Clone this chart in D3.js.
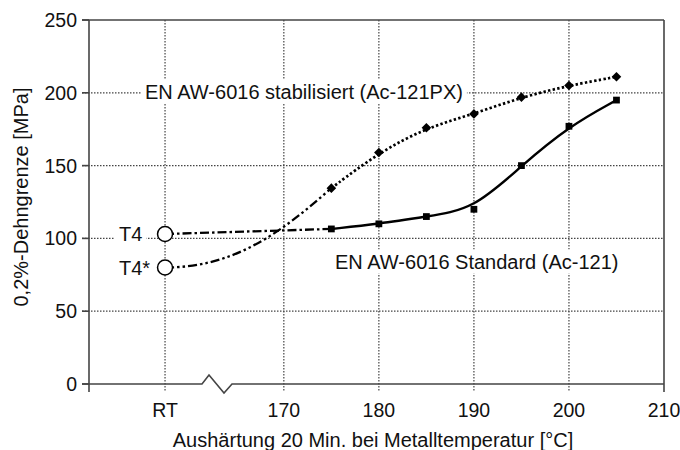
<!DOCTYPE html>
<html>
<head>
<meta charset="utf-8">
<script src="https://cdn.jsdelivr.net/npm/d3@7"></script>
<style>
  html, body { margin: 0; padding: 0; background: #fff; }
  svg { display: block; font-family: "Liberation Sans", Arial, sans-serif; }
</style>
</head>
<body>
<div id="chart"></div>
<script>
const temps = [175, 180, 185, 190, 195, 200, 205];
const standard = [106.5, 110, 115, 120, 150, 177, 195];
const stabilisiert = [134.5, 159, 176, 185.5, 197, 205, 211];
const rtT4 = 103;
const rtT4star = 80;

// Achsen
const xTickLabels = ['RT', '170', '180', '190', '200', '210'];
const xTickPos = [157.5, 170, 180, 190, 200, 210]; // RT sits left of the axis break
const yTicks = [0, 50, 100, 150, 200, 250];

const width = 680;
const height = 450;

const svg = d3.select('#chart')
  .append('svg')
  .attr('width', width)
  .attr('height', height);

const x = d3.scaleLinear().domain([149.5, 210]).range([89, 664]);
const y = d3.scaleLinear().domain([0, 250]).range([384, 20]);

const gridColor = '#444';
const axisColor = '#444';
const textColor = '#111';

// Grid (dotted)
const grid = svg.append('g').attr('class', 'grid');

grid.selectAll('line.h')
  .data(yTicks.filter(v => v > 0 && v < 250))
  .enter()
  .append('line')
  .attr('class', 'h')
  .attr('x1', x.range()[0] - 7)
  .attr('x2', x.range()[1])
  .attr('y1', d => y(d))
  .attr('y2', d => y(d))
  .attr('stroke', gridColor)
  .attr('stroke-width', 1.2)
  .attr('stroke-dasharray', '1.5,1.5');

grid.selectAll('line.v')
  .data(xTickPos.filter(v => v < 210))
  .enter()
  .append('line')
  .attr('class', 'v')
  .attr('x1', d => x(d))
  .attr('x2', d => x(d))
  .attr('y1', y(250))
  .attr('y2', y(0) + 8)
  .attr('stroke', gridColor)
  .attr('stroke-width', 1.2)
  .attr('stroke-dasharray', '1.5,1.5');

// Frame + axes
const frame = svg.append('g').attr('class', 'frame')
  .attr('stroke', axisColor)
  .attr('stroke-width', 1.6)
  .attr('fill', 'none');

// top and right border
frame.append('line')
  .attr('x1', x.range()[0] - 7).attr('x2', x.range()[1])
  .attr('y1', y(250)).attr('y2', y(250));
frame.append('line')
  .attr('x1', x.range()[1]).attr('x2', x.range()[1])
  .attr('y1', y(250)).attr('y2', y(0) + 8);

// y axis line
frame.append('line')
  .attr('x1', x.range()[0]).attr('x2', x.range()[0])
  .attr('y1', y(250)).attr('y2', y(0) + 8);

// y ticks (left of axis)
frame.selectAll('line.ytick')
  .data(yTicks)
  .enter()
  .append('line')
  .attr('class', 'ytick')
  .attr('x1', x.range()[0] - 7).attr('x2', x.range()[0])
  .attr('y1', d => y(d)).attr('y2', d => y(d));

// x axis with break between RT and 170
const y0 = y(0);
frame.append('path')
  .attr('d', d3.line()([
    [x.range()[0] - 7, y0],
    [202, y0],
    [209, y0 - 9],
    [224, y0 + 9],
    [232, y0],
    [x.range()[1], y0]
  ]))
  .attr('stroke-linejoin', 'miter');

// Tick labels
svg.append('g')
  .selectAll('text')
  .data(yTicks)
  .enter()
  .append('text')
  .attr('x', x.range()[0] - 12)
  .attr('y', d => y(d))
  .attr('dy', '0.36em')
  .attr('text-anchor', 'end')
  .attr('fill', textColor)
  .style('font-size', '19.5px')
  .text(d => d);

svg.append('g')
  .selectAll('text')
  .data(xTickPos)
  .enter()
  .append('text')
  .attr('x', d => x(d))
  .attr('y', y0 + 33)
  .attr('text-anchor', 'middle')
  .attr('fill', textColor)
  .style('font-size', '19.5px')
  .text((d, i) => xTickLabels[i]);

// Axis titles
svg.append('text')
  .attr('x', 373)
  .attr('y', 447)
  .attr('text-anchor', 'middle')
  .attr('fill', textColor)
  .style('font-size', '20px')
  .text('Aushärtung 20 Min. bei Metalltemperatur [°C]');

svg.append('text')
  .attr('transform', 'translate(28, 197) rotate(-90)')
  .attr('text-anchor', 'middle')
  .attr('fill', textColor)
  .style('font-size', '20px')
  .text('0,2%-Dehngrenze [MPa]');

// Labels with white background
function label(tx, ty, txt) {
  const g = svg.append('g');
  const rect = g.append('rect').attr('fill', '#fff');
  const t = g.append('text')
    .attr('x', tx)
    .attr('y', ty)
    .attr('fill', textColor)
    .style('font-size', '20px')
    .text(txt);
  const bb = t.node().getBBox();
  rect.attr('x', bb.x - 4).attr('y', bb.y - 1)
    .attr('width', bb.width + 8).attr('height', bb.height + 2);
}

label(145, 98.5, 'EN AW-6016 stabilisiert (Ac-121PX)');
label(335, 268.5, 'EN AW-6016 Standard (Ac-121)');
label(119, 241, 'T4');
label(119, 275, 'T4*');

// Data lines (smoothed fit, like the original)
const pts = (vals) => temps.map((t, i) => [x(t), y(vals[i])]);
const line = d3.line().curve(d3.curveBasis);

const lines = svg.append('g').attr('fill', 'none').attr('stroke', '#000');

// T4 -> first Standard point (dash-dot)
lines.append('path')
  .attr('d', d3.line()([[x(157.5), y(rtT4)], [x(temps[0]), y(standard[0])]]))
  .attr('stroke-width', 2.3)
  .attr('stroke-dasharray', '9,3,2.5,3');

// T4* -> first stabilised point (dash-dot-dot), flat start
const p0 = [x(157.5), y(rtT4star)];
const p1 = [x(temps[0]), y(stabilisiert[0])];
const conn = d3.path();
conn.moveTo(p0[0], p0[1]);
conn.bezierCurveTo(p0[0] + 70, p0[1], p1[0] - 50, p1[1] + 44, p1[0], p1[1]);
lines.append('path')
  .attr('d', conn.toString())
  .attr('stroke-width', 2.3)
  .attr('stroke-dasharray', '9,3,2.5,3,2.5,3');

// Standard (solid)
lines.append('path')
  .attr('d', line(pts(standard)))
  .attr('stroke-width', 2.4);

// Stabilisiert (dotted)
lines.append('path')
  .attr('d', line(pts(stabilisiert)))
  .attr('stroke-width', 2.7)
  .attr('stroke-dasharray', '2.4,2.3');

// Markers
svg.append('g')
  .selectAll('path')
  .data(pts(standard))
  .enter()
  .append('path')
  .attr('d', d3.symbol(d3.symbolSquare, 46))
  .attr('transform', d => `translate(${d[0]}, ${d[1]})`)
  .attr('fill', '#000');

svg.append('g')
  .selectAll('path')
  .data(pts(stabilisiert))
  .enter()
  .append('path')
  .attr('d', d3.symbol(d3.symbolSquare, 46))
  .attr('transform', d => `translate(${d[0]}, ${d[1]}) rotate(45)`)
  .attr('fill', '#000');

svg.append('g')
  .selectAll('circle')
  .data([rtT4, rtT4star])
  .enter()
  .append('circle')
  .attr('cx', x(157.5))
  .attr('cy', d => y(d))
  .attr('r', 7.5)
  .attr('fill', '#fff')
  .attr('stroke', '#000')
  .attr('stroke-width', 1.5);
</script>
</body>
</html>
